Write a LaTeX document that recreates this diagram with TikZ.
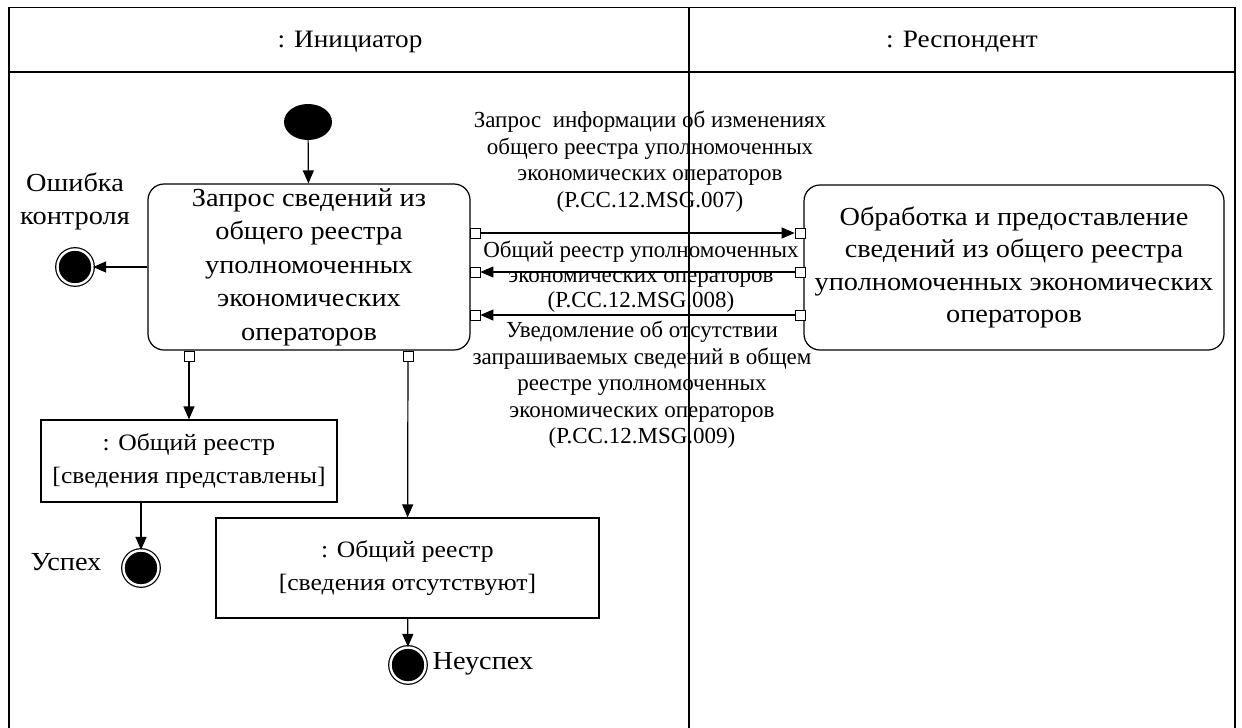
\documentclass[tikz,border=0pt]{standalone}
\usepackage{fontspec}
\setmainfont{Liberation Serif}
\newfontfamily\widefont[FakeStretch=1.09]{Liberation Serif}
\usetikzlibrary{arrows.meta}
\usetikzlibrary{shapes.geometric}
\usetikzlibrary{calc}
\tikzset{act/.style={draw,rounded corners=16pt,align=center,line width=1.2pt,inner sep=0pt}}
\tikzset{obj/.style={draw,rectangle,align=center,line width=1.2pt,inner sep=0pt,font=\widefont\fontsize{23.5}{33}\selectfont}}
\tikzset{port/.style={draw,fill=white,minimum size=10pt,inner sep=0pt,line width=0.8pt}}
\tikzset{start/.style={ellipse,fill=black,minimum width=48pt,minimum height=36pt,inner sep=0pt}}
\tikzset{fin/.style={circle,fill=black,draw=black,double=white,double distance=2.4pt,line width=1.2pt,minimum size=35pt,inner sep=0pt}}
\tikzset{msg/.style={align=center,font=\fontsize{23}{26.5}\selectfont}}
\tikzset{big/.style={font=\widefont\fontsize{26}{33}\selectfont}}

\begin{document}
\begin{tikzpicture}[x=1pt,y=-1pt,>={Triangle[length=13pt,width=11pt]}]
\useasboundingbox (0,0) rectangle (1242,728);
% swimlanes
\draw[line width=1.8pt] (9,728) -- (9,7.5) -- (1235,7.5) -- (1235,728);
\draw[line width=1.8pt] (689,7.5) -- (689,728);
\draw[line width=2.6pt] (9,72) -- (1235,72);
\node[font=\widefont\fontsize{25}{28}\selectfont] (ln1) at (350,42) {: Инициатор};
\node[font=\widefont\fontsize{25}{28}\selectfont] (ln2) at (962,42) {: Респондент};

\node[start] (ini) at (308,122) {};
\node[act, minimum width=322pt, minimum height=166pt, font=\widefont\fontsize{26}{33.5}\selectfont] (req) at (309,267)
  {Запрос сведений из\\общего реестра\\уполномоченных\\экономических\\операторов};
\node[act, minimum width=420pt, minimum height=165pt, font=\widefont\fontsize{26}{32.3}\selectfont] (proc) at (1014,267.5)
  {Обработка и предоставление\\сведений из общего реестра\\уполномоченных экономических\\операторов};

\node[port] (pa1) at (475,233) {};
\node[port] (pa2) at (475,272) {};
\node[port] (pa3) at (475,315) {};
\node[port] (pb1) at (800,233) {};
\node[port] (pb2) at (800,272) {};
\node[port] (pb3) at (800,315) {};
\node[port] (pc1) at (189,356) {};
\node[port] (pc2) at (408,356) {};

\node[fin] (ferr) at (75,267) {};
\node[big, align=center] (terr) at (75,201) {Ошибка\\контроля};

\node[obj, minimum width=296pt, minimum height=82pt] (reg1) at (189,461) {: Общий реестр\\{}[сведения представлены]};
\node[obj, minimum width=383pt, minimum height=100pt] (reg2) at (407.5,568) {: Общий реестр\\{}[сведения отсутствуют]};

\node[fin] (fok) at (141,568) {};
\node[big] (tok) at (66,562) {Успех};
\node[fin] (ffail) at (408,665) {};
\node[big] (tfail) at (483,664) {Неуспех};

\node[msg] (m1) at (650,161.5) {Запрос~ информации об изменениях\\общего реестра уполномоченных\\экономических операторов\\(P.CC.12.MSG.007)};
\node[msg, font=\fontsize{23}{25}\selectfont] (m2) at (641,277) {Общий реестр уполномоченных\\экономических операторов\\(P.CC.12.MSG.008)};
\node[msg] (m3) at (642,385) {Уведомление об отсутствии\\запрашиваемых сведений в общем\\реестре уполномоченных\\экономических операторов\\(P.CC.12.MSG.009)};

\begin{scope}[line width=1.2pt]
\draw[->] (ini) -- (req);
\draw[->] (req.west) -- (ferr);
\draw[->] (pa1) -- (pb1);
\draw[->] (pb2) -- (pa2);
\draw[->] (pb3) -- (pa3);
\draw[->] (pc1) -- (reg1);
\draw[->] (pc2) -- (reg2);
\draw[->] (reg1.south -| fok) -- (fok);
\draw[->] (reg2) -- (ffail);
\end{scope}
\end{tikzpicture}
\end{document}
